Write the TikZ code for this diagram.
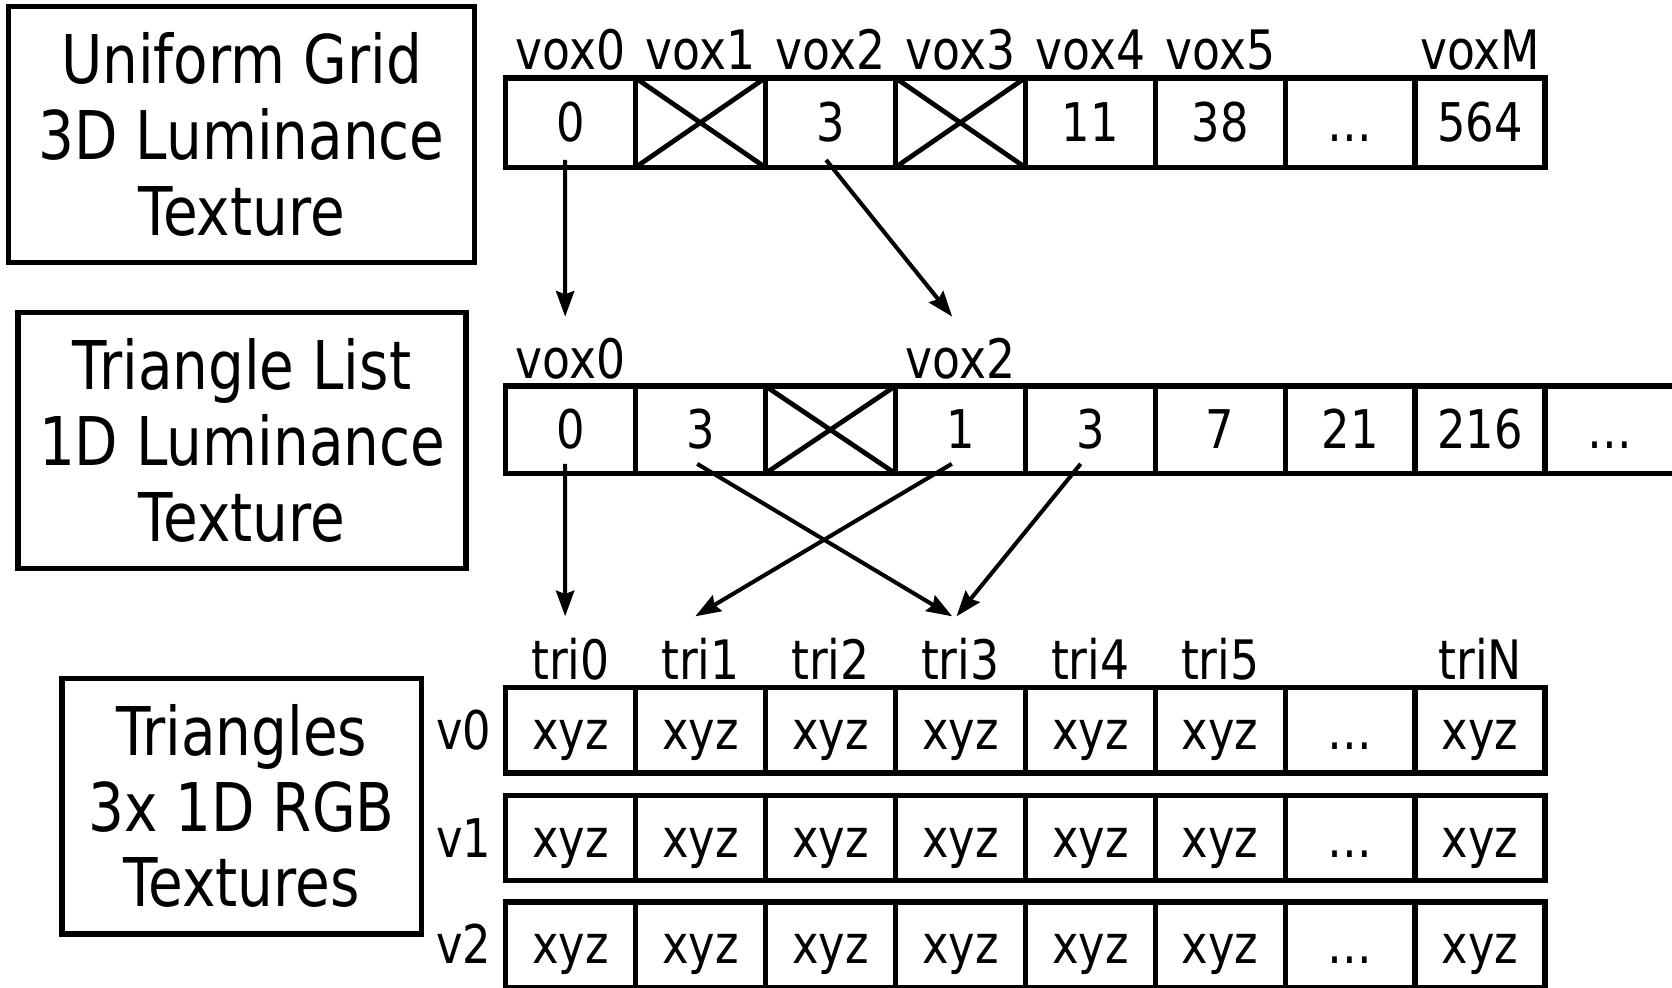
\documentclass[tikz,border=0pt]{standalone}
\usepackage{fontspec}
\setmainfont[FakeStretch=0.84]{DejaVu Sans}
\usetikzlibrary{arrows.meta,calc}
\begin{document}
\begin{tikzpicture}[x=1pt,y=-1pt,
  lbox/.style={draw,line width=5pt,minimum height=240pt,inner sep=0pt,outer sep=0pt,align=center,font=\fontsize{63}{71}\selectfont},
  cell/.style={draw,line width=5pt,minimum width=121.9pt,minimum height=84pt,inner sep=0pt,outer sep=0pt,text height=36pt,text depth=0pt,font=\fontsize{50}{56}\selectfont},
  brow/.style={cell,minimum height=80pt},
  lab/.style={anchor=base,inner sep=0pt,font=\fontsize{51}{56}\selectfont},
  arr/.style={line width=3.8pt,-{Stealth[length=24pt,width=17pt,inset=3pt]}},
  xline/.style={line width=4.5pt}]
\useasboundingbox (0,0) rectangle (1568,926);

% left boxes
\node[lbox,minimum width=437pt] (grid) at (226.5,126) {Uniform Grid\\3D Luminance\\Texture};
\node[lbox,minimum width=420pt] (list) at (227,413) {Triangle List\\1D Luminance\\Texture};
\node[lbox,minimum width=337pt] (tris) at (226.5,756) {Triangles\\3x 1D RGB\\Textures};

% top array
\foreach \i/\t in {0/0,1/,2/3,3/,4/11,5/38,6/…,7/564}
  \node[cell] (t\i) at ({474+121.875*(\i+0.5)},115) {\t};
\foreach \i in {1,3}
  \draw[xline] (t\i.north west) -- (t\i.south east) (t\i.south west) -- (t\i.north east);
\foreach \i/\t in {0/vox0,1/vox1,2/vox2,3/vox3,4/vox4,5/vox5,7/voxM}
  \node[lab] (tl\i) at ($(t\i.north)+(0,-8)$) {\t};

% middle array
\foreach \i/\t in {0/0,1/3,2/,3/1,4/3,5/7,6/21,7/216,8/…}
  \node[cell,minimum height=82pt] (m\i) at ({474+121.875*(\i+0.5)},403) {\t};
\draw[xline] (m2.north west) -- (m2.south east) (m2.south west) -- (m2.north east);
\node[lab] (ml0) at ($(m0.north)+(0,-7)$) {vox0};
\node[lab] (ml3) at ($(m3.north)+(0,-7)$) {vox2};

% bottom rows
\foreach \r/\y in {0/685,1/786,2/886}{
  \foreach \i/\t in {0/xyz,1/xyz,2/xyz,3/xyz,4/xyz,5/xyz,6/…,7/xyz}
    \node[brow] (r\r c\i) at ({474+121.875*(\i+0.5)},\y) {\t};
  \node[font=\fontsize{50}{56}\selectfont,inner sep=0pt,text height=36pt,text depth=0pt] (v\r) at (435,\y) {v\r};
}
\foreach \i/\t in {0/tri0,1/tri1,2/tri2,3/tri3,4/tri4,5/tri5,7/triN}
  \node[lab] (bl\i) at ($(r0c\i.north)+(0,-8)$) {\t};

% arrows
\coordinate (a1s) at ($(t0.south)+(-5,-7)$);
\coordinate (a1e) at (530,297);
\coordinate (a2s) at ($(t2.south)+(-4,-7)$);
\coordinate (a2e) at (893,297);
\coordinate (a3s) at ($(m0.south)+(-5,-9)$);
\coordinate (a3e) at (530,578);
\coordinate (a4s) at ($(m1.south)+(-3,-9)$);
\coordinate (a4e) at (893,578);
\coordinate (a5s) at ($(m3.south)+(-8,-9)$);
\coordinate (a5e) at (652,578);
\coordinate (a6s) at ($(m4.south)+(-9,-9)$);
\coordinate (a6e) at (897,578);
\draw[arr] (a1s) -- (a1e);
\draw[arr] (a2s) -- (a2e);
\draw[arr] (a3s) -- (a3e);
\draw[arr] (a4s) -- (a4e);
\draw[arr] (a5s) -- (a5e);
\draw[arr] (a6s) -- (a6e);
\end{tikzpicture}
\end{document}
